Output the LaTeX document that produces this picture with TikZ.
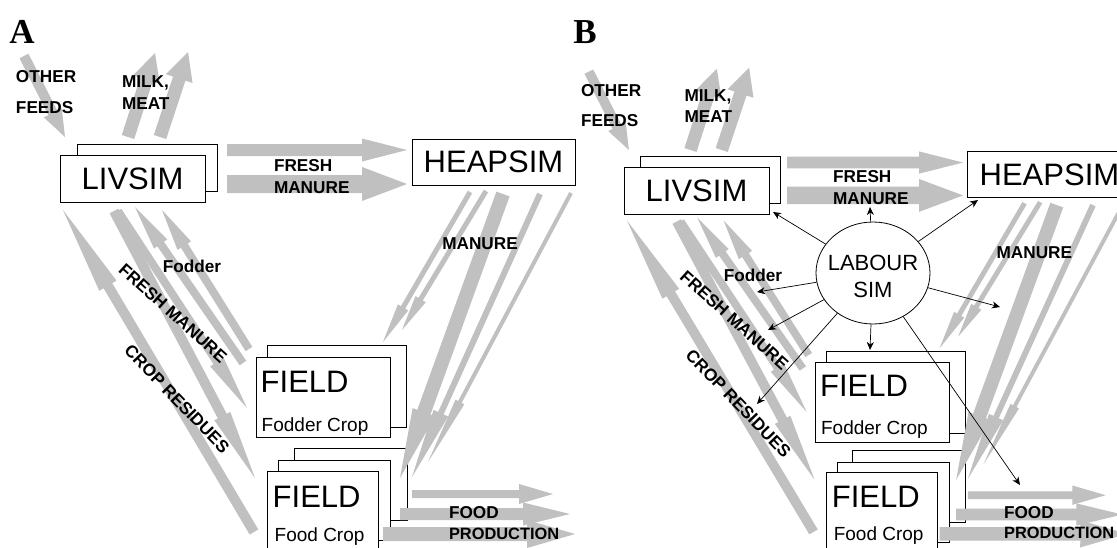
\documentclass[tikz,border=0pt]{standalone}
\usepackage{fontspec}
\setmainfont{Liberation Sans}
\newfontfamily\serifb{Liberation Serif}
\usetikzlibrary{calc,shapes.geometric,arrows.meta}
\definecolor{flowgray}{RGB}{192,192,192}

% name, start, end, half shaft, half head, head length
\newcommand\flowarrow[6]{%
  \coordinate (#1-s) at #2; \coordinate (#1-e) at #3;
  \coordinate (#1-c) at ($(#1-e)!#6!(#1-s)$);
  \fill[flowgray] ($(#1-s)!#4!90:(#1-e)$) -- ($(#1-c)!#4!90:(#1-e)$) -- ($(#1-c)!#5!90:(#1-e)$) -- (#1-e) -- ($(#1-c)!#5!-90:(#1-e)$) -- ($(#1-c)!#4!-90:(#1-e)$) -- ($(#1-s)!#4!-90:(#1-e)$) -- cycle;}

\tikzset{
  lbl/.style={font=\fontsize{17.2}{19}\selectfont\bfseries, inner sep=0pt, outer sep=0pt},
  bigtxt/.style={font=\fontsize{31}{31}\selectfont, inner sep=0pt},
  subtxt/.style={font=\fontsize{19}{19}\selectfont, inner sep=0pt},
  box/.style={draw, line width=1pt, fill=white, inner sep=0pt, outer sep=0pt},
  labarrow/.style={-{Stealth[length=8pt,width=7pt,inset=2.5pt]}, line width=0.7pt},
  title/.style={font=\serifb\bfseries\fontsize{35}{35}\selectfont, inner sep=0pt}
}

\newcommand\drawpanel[1]{%
  % boxes
  \node[box, anchor=north west, minimum width=140pt, minimum height=47pt] (#1livback) at (77,144) {};
  \node[box, bigtxt, anchor=north west, minimum width=145pt, minimum height=47pt] (#1liv) at (60,155) {LIVSIM};
  \node[box, bigtxt, anchor=north west, minimum width=163pt, minimum height=46pt] (#1heap) at (412,139) {HEAPSIM};
  \node[box, anchor=north west, minimum width=139pt, minimum height=82pt] (#1fodback) at (267,345) {};
  \node[box, anchor=north west, minimum width=134pt, minimum height=80pt] (#1fod) at (256,357) {};
  \node[bigtxt, anchor=base west] (#1fodT) at (260.5,392) {FIELD};
  \node[subtxt, anchor=base west] (#1fodS) at (261.5,431) {Fodder Crop};
  \node[box, anchor=north west, minimum width=113pt, minimum height=72pt] (#1foodback) at (294,448) {};
  \node[box, anchor=north west, minimum width=112pt, minimum height=80pt] (#1foodmid) at (278,460) {};
  \node[box, anchor=north west, minimum width=111pt, minimum height=100pt] (#1food) at (267,471) {};
  \node[bigtxt, anchor=base west] (#1foodT) at (272.5,507) {FIELD};
  \node[subtxt, anchor=base west] (#1foodS) at (274.5,541) {Food Crop};
  % flow arrows
  \flowarrow{#1of}{(24,56)}{(65,137)}{5pt}{10pt}{27pt}
  \flowarrow{#1mma}{(128,137)}{(155,53)}{6.5pt}{14pt}{28pt}
  \flowarrow{#1mmb}{(160,137)}{(188,52)}{6.5pt}{14pt}{28pt}
  \flowarrow{#1fma}{(227,150)}{(407,150)}{6pt}{11.5pt}{45pt}
  \flowarrow{#1fmb}{(227,184)}{(407,184)}{9pt}{17pt}{45pt}
  \flowarrow{#1cr}{(254,532)}{(63,210)}{5pt}{10pt}{88pt}
  \flowarrow{#1lfa}{(114,211)}{(255,478)}{5pt}{9pt}{70pt}
  \flowarrow{#1lfb}{(118,211)}{(247,408)}{4pt}{8pt}{55pt}
  \flowarrow{#1fda}{(243,363)}{(135,207)}{4pt}{8pt}{45pt}
  \flowarrow{#1fdb}{(249,349)}{(162,210)}{4pt}{8pt}{42pt}
  \flowarrow{#1ma}{(470,192)}{(383,342)}{2.5pt}{6pt}{40pt}
  \flowarrow{#1mb}{(486,191)}{(402,330)}{2.5pt}{6pt}{36pt}
  \flowarrow{#1mc}{(503,194)}{(400,478)}{7pt}{12pt}{70pt}
  \flowarrow{#1md}{(540,194)}{(412,477)}{3pt}{8pt}{70pt}
  \flowarrow{#1me}{(571,193)}{(428,462)}{2pt}{5pt}{68pt}
  \flowarrow{#1fpa}{(412,494)}{(553,494)}{4pt}{10pt}{34pt}
  \flowarrow{#1fpb}{(400,514)}{(570,514)}{6pt}{11.5pt}{47pt}
  \flowarrow{#1fpc}{(383,534)}{(575,534)}{7pt}{14pt}{48pt}
  % labels
  \node[lbl, anchor=base west] (#1other) at (16,82) {OTHER};
  \node[lbl, anchor=base west] (#1feeds) at (16,113) {FEEDS};
  \node[lbl, anchor=base west] (#1milk) at (122,87) {MILK,};
  \node[lbl, anchor=base west] (#1meat) at (122,109) {MEAT};
  \node[lbl, anchor=base west] (#1fresh) at (274,171) {FRESH};
  \node[lbl, anchor=base west] (#1fman) at (274,193) {MANURE};
  \node[lbl] (#1man) at (480,243.5) {MANURE};
  \node[lbl] (#1fodder) at (192,266.5) {Fodder};
  \node[lbl, rotate=-42] (#1fmlbl) at (173,313) {FRESH MANURE};
  \node[lbl, rotate=-46] (#1crlbl) at (177,399) {CROP RESIDUES};
  \node[lbl, anchor=base west] (#1foodlbl) at (449,518) {FOOD};
  \node[lbl, font=\fontsize{16.4}{19}\selectfont\bfseries, anchor=base west] (#1prod) at (449,539) {PRODUCTION};
}

\begin{document}
\begin{tikzpicture}[x=1pt, y=-1pt]
  \useasboundingbox (0,0) rectangle (1117,547);
  \fill[white] (0,0) rectangle (1117,547);
  \clip (0,0) rectangle (1117,547);

  \node[title] (ta) at (22,32) {A};
  \node[title] (tb) at (585,32) {B};

  \drawpanel{a}
  \begin{scope}[shift={(565.4,17.5)}, xscale=0.977, yscale=0.967]
    \drawpanel{b}
  \end{scope}

  % LABOUR SIM (panel B)
  \node[draw, line width=0.8pt, fill=white, ellipse, minimum width=114pt, minimum height=102pt, inner sep=0pt] (lab) at (873,273) {};
  \node[align=center, inner sep=0pt, font=\fontsize{22}{27}\selectfont] (labtxt) at (873,276) {LABOUR\\SIM};
  \coordinate (t1) at (773,212);
  \coordinate (t2) at (870,207);
  \coordinate (t3) at (978,200);
  \coordinate (t4) at (757,292);
  \coordinate (t5) at (1000,307);
  \coordinate (t6) at (768,330);
  \coordinate (t7) at (870,350);
  \coordinate (t8) at (757,404);
  \coordinate (t9) at (1020,485);
  \foreach \t in {t1,t2,t3,t4,t5,t6,t7,t8,t9} {\draw[labarrow] (lab) -- (\t);}
\end{tikzpicture}
\end{document}
